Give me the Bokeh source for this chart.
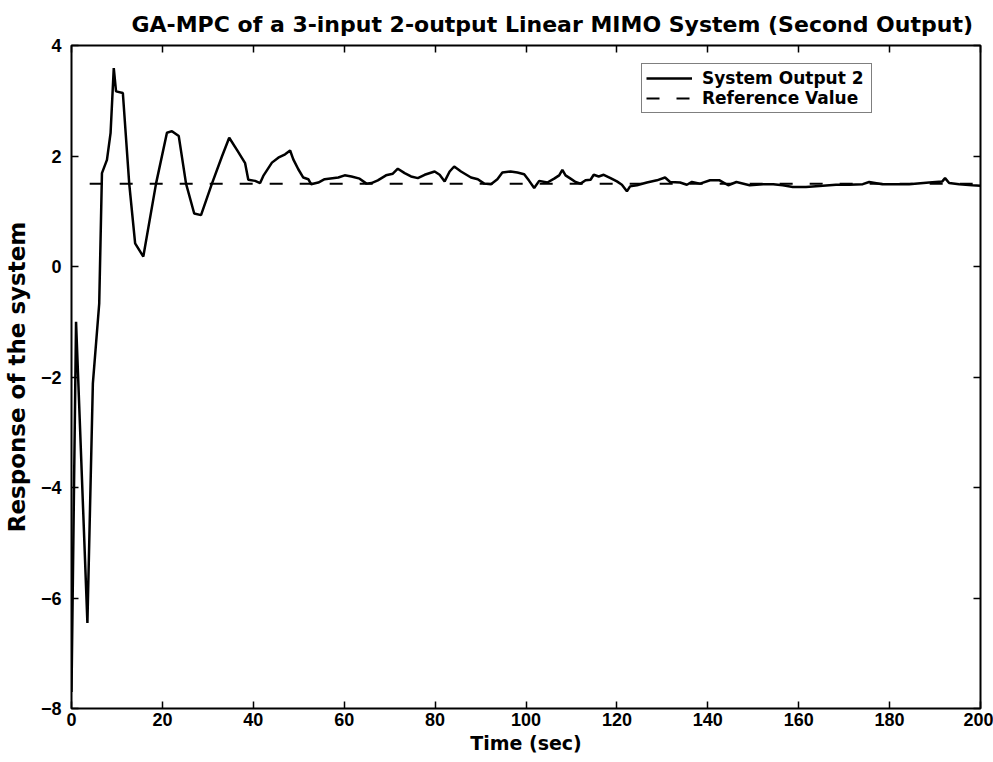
from bokeh.plotting import figure
from bokeh.models import Range1d, FixedTicker, LinearAxis, Legend, LegendItem
from bokeh.embed import file_html
from bokeh.resources import INLINE

# ---- data ----
t_out = [0, 1, 3.5, 4.7, 6.1, 6.7, 7.8, 8.6, 9.3, 9.8, 11.3, 12.7, 14.0, 15.8, 18.6,
         21.0, 22.1, 23.6, 25.2, 27.0, 28.5, 30.9, 33.1, 34.7, 36.4, 38.2, 38.9, 40.4,
         41.5, 42.2, 44.1, 45.5, 47.0, 48.1, 48.8, 49.9, 51.0, 52.1, 52.7, 54.3, 55.7,
         58.7, 60.1, 61.6, 63.4, 64.9, 66.0, 67.4, 69.2, 70.7, 71.8, 73.3, 74.7, 76.2,
         77.7, 79.9, 81.0, 82.1, 83.2, 84.2, 85.7, 87.9, 89.4, 90.8, 92.3, 93.7, 94.8,
         96.6, 98.1, 99.6, 100.7, 101.8, 102.9, 104.7, 106.2, 107.3, 108.0, 108.7, 109.8,
         110.9, 112.0, 113.1, 114.2, 114.9, 116.0, 117.1, 118.6, 120.0, 121.1, 122.2,
         122.9, 124.4, 126.6, 128.8, 130.6, 131.7, 133.9, 135.4, 136.5, 138.3, 140.5,
         142.6, 144.5, 146.3, 149.2, 152.2, 154.4, 156.5, 158.7, 161.6, 165.3, 168.2,
         171.1, 174.1, 175.5, 178.4, 181.4, 184.3, 188.7, 191.6, 192.2, 193.1, 195.3,
         198.2, 200]
y_out = [-7.7, -1.0, -6.45, -2.12, -0.67, 1.69, 1.93, 2.42, 3.59, 3.17, 3.14, 1.5, 0.42,
         0.18, 1.5, 2.42, 2.45, 2.36, 1.5, 0.96, 0.93, 1.5, 1.99, 2.33, 2.11, 1.87, 1.57,
         1.55, 1.51, 1.64, 1.88, 1.97, 2.03, 2.10, 1.94, 1.76, 1.61, 1.58, 1.49, 1.52,
         1.58, 1.61, 1.65, 1.63, 1.59, 1.50, 1.51, 1.56, 1.65, 1.68, 1.77, 1.69, 1.63,
         1.60, 1.66, 1.72, 1.66, 1.54, 1.72, 1.81, 1.72, 1.61, 1.58, 1.50, 1.49, 1.58,
         1.70, 1.72, 1.70, 1.67, 1.55, 1.42, 1.55, 1.52, 1.59, 1.65, 1.75, 1.65, 1.59,
         1.53, 1.50, 1.56, 1.57, 1.66, 1.63, 1.66, 1.60, 1.54, 1.48, 1.36, 1.45, 1.47,
         1.52, 1.56, 1.61, 1.53, 1.52, 1.48, 1.53, 1.50, 1.56, 1.56, 1.47, 1.53, 1.47,
         1.49, 1.49, 1.47, 1.44, 1.44, 1.46, 1.48, 1.48, 1.49, 1.53, 1.49, 1.49, 1.49,
         1.52, 1.54, 1.60, 1.51, 1.49, 1.47, 1.46]
t_ref = [4, 200]
y_ref = [1.5, 1.5]

x_ticks = [0, 20, 40, 60, 80, 100, 120, 140, 160, 180, 200]
y_ticks = [-8, -6, -4, -2, 0, 2, 4]

TICK_FONT = "Liberation Sans"
TEXT_FONT = "DejaVu Sans"

p = figure(width=993, height=762, x_range=Range1d(0, 200), y_range=Range1d(-8, 4),
           output_backend="svg", toolbar_location=None,
           min_border_left=70, min_border_right=13, min_border_top=45, min_border_bottom=54,
           title="GA-MPC of a 3-input 2-output Linear MIMO System (Second Output)")
p.grid.visible = False
p.background_fill_color = "white"
p.border_fill_color = "white"
p.outline_line_color = "black"
p.outline_line_width = 2

p.title.text_font = TEXT_FONT
p.title.text_font_size = "22px"
p.title.text_font_style = "bold"
p.title.text_color = "black"
p.title.align = "left"
p.title.offset = 60
p.title.standoff = 17

for ax in (p.xaxis[0], p.yaxis[0]):
    ax.major_tick_in = 7
    ax.major_tick_out = 0
    ax.minor_tick_line_color = None
    ax.axis_line_color = None
    ax.major_tick_line_width = 1.5
    ax.major_tick_line_color = "black"
    ax.major_label_text_font = TICK_FONT
    ax.major_label_text_font_style = "bold"
    ax.major_label_text_font_size = "18px"
    ax.major_label_text_color = "black"
    ax.axis_label_text_font = TEXT_FONT
    ax.axis_label_text_font_style = "bold"
    ax.axis_label_text_color = "black"

p.xaxis[0].ticker = FixedTicker(ticks=x_ticks)
p.yaxis[0].ticker = FixedTicker(ticks=y_ticks)
p.xaxis[0].axis_label = "Time (sec)"
p.xaxis[0].axis_label_text_font_size = "19px"
p.xaxis[0].major_label_standoff = 4
p.xaxis[0].axis_label_standoff = 3
p.yaxis[0].axis_label = "Response of the system"
p.yaxis[0].axis_label_text_font_size = "23px"
p.yaxis[0].major_label_standoff = 10
p.yaxis[0].axis_label_standoff = 8

for loc, tk in (("above", x_ticks), ("right", y_ticks)):
    ax = LinearAxis(ticker=FixedTicker(ticks=tk))
    ax.major_tick_in = 7
    ax.major_tick_out = 0
    ax.major_tick_line_width = 1.5
    ax.major_tick_line_color = "black"
    ax.minor_tick_line_color = None
    ax.axis_line_color = None
    ax.major_label_text_font_size = "0px"
    ax.major_label_standoff = 0
    p.add_layout(ax, loc)

r_out = p.line(t_out, y_out, line_color="black", line_width=2.5)
r_ref = p.line(t_ref, y_ref, line_color="black", line_width=2, line_dash="13 17")

legend = Legend(items=[LegendItem(label="System Output 2", renderers=[r_out]),
                       LegendItem(label="Reference Value", renderers=[r_ref])],
                location=(570, 595))
legend.label_text_font = TEXT_FONT
legend.label_text_font_style = "bold"
legend.label_text_font_size = "17px"
legend.label_text_color = "black"
legend.border_line_color = "black"
legend.border_line_width = 1.5
legend.background_fill_color = "white"
legend.background_fill_alpha = 1
legend.padding = 4
legend.spacing = 0
legend.margin = 0
legend.glyph_width = 46
legend.glyph_height = 18
legend.label_height = 18
legend.label_width = 165
legend.label_standoff = 10
p.add_layout(legend)

open("out.html", "w").write(file_html(p, INLINE))
